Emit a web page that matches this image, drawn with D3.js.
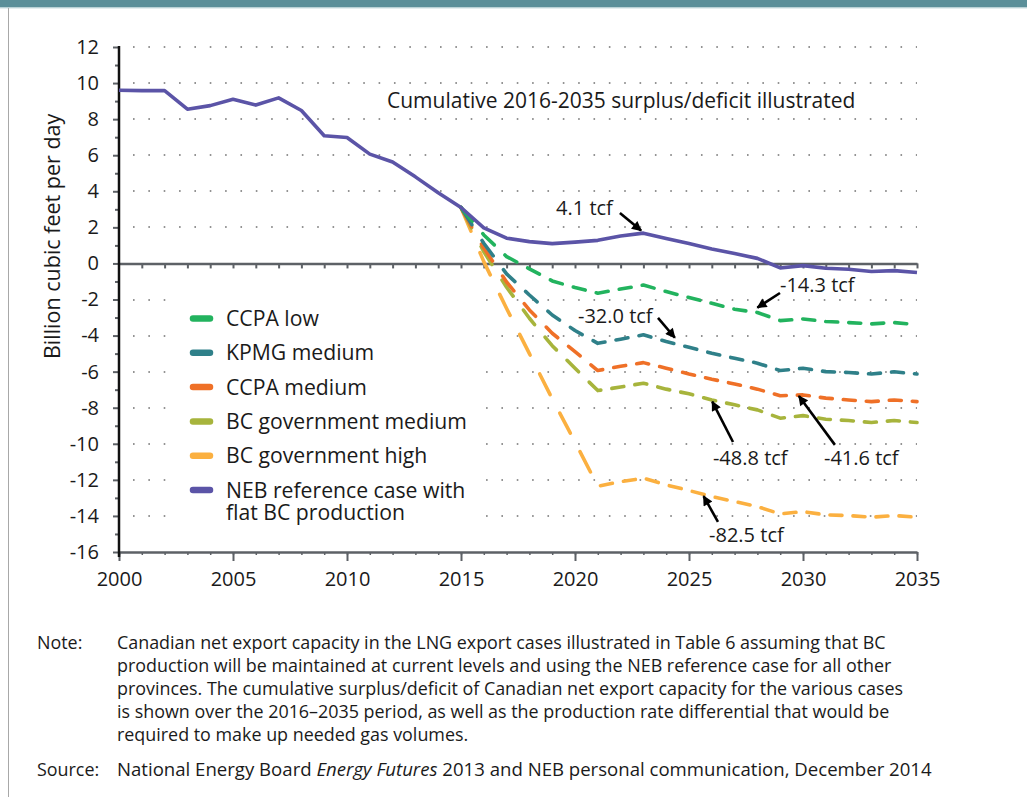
<!DOCTYPE html>
<html><head><meta charset="utf-8">
<script src="https://cdn.jsdelivr.net/npm/d3@7"></script>
<style>
body{margin:0;background:#fff;}
svg{display:block;}
text{font-family:"Open Sans",sans-serif;fill:#1a1a1a;}
</style>
</head><body>
<svg id="c" width="1027" height="797"></svg>
<script>
// ---------- DATA ----------
const years = d3.range(2000, 2036);
const nebValues = [9.6, 9.58, 9.58, 8.55, 8.75, 9.1, 8.78, 9.18, 8.48, 7.08, 6.98, 6.06, 5.62, 4.8, 3.92, 3.1,
  1.97, 1.4, 1.21, 1.1, 1.18, 1.28, 1.52, 1.68, 1.38, 1.1, 0.8, 0.55, 0.28, -0.25, -0.12, -0.27, -0.32, -0.45, -0.4, -0.5];
const scenarioYears = d3.range(2015, 2036);
const ccpaLow = [3.1, 1.58, 0.38, -0.3, -0.97, -1.34, -1.65, -1.42, -1.2, -1.56, -1.89, -2.21, -2.54, -2.72, -3.17, -3.08, -3.22, -3.28, -3.35, -3.28, -3.39];
const kpmgMedium = [3.1, 1.12, -0.58, -1.75, -2.86, -3.72, -4.43, -4.2, -3.96, -4.33, -4.65, -4.98, -5.26, -5.53, -5.94, -5.81, -6.0, -6.05, -6.13, -6.01, -6.13];
const ccpaMedium = [3.1, 0.85, -1.03, -2.58, -3.87, -4.89, -5.94, -5.7, -5.5, -5.81, -6.13, -6.42, -6.68, -6.97, -7.34, -7.29, -7.47, -7.57, -7.66, -7.57, -7.66];
const bcGovMedium = [3.1, 0.65, -1.32, -3.04, -4.56, -5.81, -7.05, -6.85, -6.64, -6.97, -7.23, -7.57, -7.84, -8.12, -8.58, -8.44, -8.64, -8.71, -8.82, -8.71, -8.82];
const bcGovHigh = [3.1, 0.1, -2.5, -5.0, -7.5, -9.9, -12.35, -12.1, -11.91, -12.28, -12.59, -12.93, -13.2, -13.48, -13.89, -13.76, -13.94, -13.98, -14.07, -13.98, -14.07];
const legendLabels = ["CCPA low", "KPMG medium", "CCPA medium", "BC government medium", "BC government high", "NEB reference case with|flat BC production"];
const yTicks = d3.range(-16, 13, 2);
const yMinorTicks = d3.range(-15, 12, 2);
const xTicks = d3.range(2000, 2036, 5);
const xMinorTicks = d3.range(2000, 2036, 1);
const chartTitle = "Cumulative 2016-2035 surplus/deficit illustrated";
const yTitle = "Billion cubic feet per day";
const annotationLabels = ["4.1 tcf", "-14.3 tcf", "-32.0 tcf", "-48.8 tcf", "-41.6 tcf", "-82.5 tcf"];

// ---------- STYLE / LAYOUT ----------
const colors = ["#22b35e", "#2f8089", "#ef7027", "#a7b43c", "#fbb040", "#5b54a7"];
const scenarioData = [ccpaLow, kpmgMedium, ccpaMedium, bcGovMedium, bcGovHigh];
const W = 1027, H = 797;
const svg = d3.select("#c");
const x = d3.scaleLinear().domain([2000, 2035]).range([119, 917]);
const y = d3.scaleLinear().domain([-16, 12]).range([552, 47]);
const FONT = '"Open Sans", sans-serif';

// page frame
svg.append("rect").attr("x", 0).attr("y", 0).attr("width", W).attr("height", 7.5).attr("fill", "#5b8f99");
svg.append("line").attr("x1", 0).attr("x2", W).attr("y1", 8).attr("y2", 8).attr("stroke", "#c9dde0").attr("stroke-width", 1);
svg.append("line").attr("x1", 8.5).attr("x2", 8.5).attr("y1", 8).attr("y2", H).attr("stroke", "#a8a8a8").attr("stroke-width", 1);

// dotted grid
svg.append("g").selectAll("line").data(yTicks.filter(v => v !== 0 && v !== -16)).join("line")
  .attr("x1", 133).attr("x2", 917).attr("y1", d => Math.round(y(d))).attr("y2", d => Math.round(y(d)))
  .attr("stroke", "#707070").attr("stroke-width", 1.6).attr("stroke-dasharray", "1.6 13.75");

// legend background (covers grid)
svg.append("rect").attr("x", 178).attr("y", 292).attr("width", 300).attr("height", 236).attr("fill", "#fff");

// zero line with year ticks
const zg = svg.append("g").attr("transform", `translate(0,${y(0)})`)
  .call(d3.axisBottom(x).tickValues(xMinorTicks.filter(d => d > 2000)).tickSize(5).tickFormat("").tickSizeOuter(0));
zg.select(".domain").attr("stroke", "#5d6166").attr("stroke-width", 2.5);
zg.selectAll(".tick line").attr("stroke", "#5d6166").attr("stroke-width", 2);

// bottom axis
const xg = svg.append("g").attr("transform", `translate(0,${y(-16)})`)
  .call(d3.axisBottom(x).tickValues(xMinorTicks).tickSize(3).tickFormat("").tickSizeOuter(0));
xg.select(".domain").attr("stroke", "#5d6166").attr("stroke-width", 2.5);
xg.selectAll(".tick line").attr("stroke", "#5d6166").attr("stroke-width", 1.5);
const xg2 = svg.append("g").attr("transform", `translate(0,${y(-16)})`)
  .call(d3.axisBottom(x).tickValues(xTicks).tickSize(9).tickPadding(11).tickSizeOuter(0).tickFormat(d3.format("d")));
xg2.select(".domain").remove();
xg2.selectAll(".tick line").attr("stroke", "#5d6166").attr("stroke-width", 2);
xg2.selectAll(".tick text").attr("font-family", FONT).attr("font-size", 20).attr("fill", "#1a1a1a");

// y axis
const ygm = svg.append("g").attr("transform", `translate(${x(2000)},0)`)
  .call(d3.axisLeft(y).tickValues(yMinorTicks).tickSize(4).tickFormat("").tickSizeOuter(0));
ygm.select(".domain").remove();
ygm.selectAll(".tick line").attr("stroke", "#5d6166").attr("stroke-width", 2);
const yg = svg.append("g").attr("transform", `translate(${x(2000)},0)`)
  .call(d3.axisLeft(y).tickValues(yTicks).tickSize(6).tickPadding(14).tickSizeOuter(0).tickFormat(d => String(d)));
yg.select(".domain").remove();
yg.selectAll(".tick line").attr("stroke", "#5d6166").attr("stroke-width", 2);
yg.selectAll(".tick text").attr("font-family", FONT).attr("font-size", 20).attr("fill", "#1a1a1a");
svg.append("line").attr("x1", x(2000)).attr("x2", x(2000)).attr("y1", y(12) - 1).attr("y2", y(-16) + 5)
  .attr("stroke", "#111").attr("stroke-width", 2.5);

// y title
svg.append("text").attr("transform", `translate(52,${(y(9.6) + y(-6.6)) / 2}) rotate(-90)`)
  .attr("text-anchor", "middle").attr("dy", "0.35em").attr("font-size", 21.5).text(yTitle);

// chart title
svg.append("text").attr("x", 387).attr("y", 108).attr("font-size", 21).text(chartTitle);

// dashed scenario lines (dash pattern computed in a vertically compressed space, as in the source)
function dashify(pts, pattern, s) {
  const out = []; let cur = null; let on = true; let pi = 0; let remain = pattern[0];
  for (let i = 0; i < pts.length - 1; i++) {
    const [x0, y0] = pts[i], [x1, y1] = pts[i + 1];
    const len = Math.hypot(x1 - x0, (y1 - y0) / s);
    let t = 0;
    while (len - t > 1e-9) {
      const step = Math.min(remain, len - t);
      const ta = t / len, tb = (t + step) / len;
      if (on) {
        if (!cur) cur = [[x0 + (x1 - x0) * ta, y0 + (y1 - y0) * ta]];
        cur.push([x0 + (x1 - x0) * tb, y0 + (y1 - y0) * tb]);
      }
      t += step; remain -= step;
      if (remain <= 1e-9) {
        if (on && cur) { out.push(cur); cur = null; }
        on = !on; pi = (pi + 1) % 2; remain = pattern[pi];
      }
    }
  }
  if (cur) out.push(cur);
  return out;
}
const lineGen = d3.line();
const scenarioOrder = [4, 3, 2, 1, 0];
scenarioOrder.forEach(i => {
  const pts = scenarioYears.map((yr, k) => [x(yr), y(scenarioData[i][k])]);
  const dashes = dashify(pts, [12, 11], 3.5);
  svg.append("g").selectAll("path").data(dashes).join("path")
    .attr("d", d => lineGen(d)).attr("fill", "none").attr("stroke", colors[i])
    .attr("stroke-width", 3.6).attr("stroke-linecap", "round").attr("stroke-linejoin", "round");
});

// NEB solid line
svg.append("path").datum(years.map((yr, k) => [x(yr), y(nebValues[k])]))
  .attr("d", lineGen).attr("fill", "none").attr("stroke", colors[5]).attr("stroke-width", 3.6)
  .attr("stroke-linejoin", "round");

// legend
const legendTop = 318.5, legendStep = 34.3;
legendLabels.forEach((lab, i) => {
  const cy = legendTop + i * legendStep;
  svg.append("line").attr("x1", 193).attr("x2", 210).attr("y1", cy).attr("y2", cy)
    .attr("stroke", colors[i]).attr("stroke-width", 6.5).attr("stroke-linecap", "round");
  const t = svg.append("text").attr("x", 226).attr("y", cy).attr("font-size", 21.2);
  lab.split("|").forEach((part, j) => {
    t.append("tspan").attr("x", 226).attr("dy", j === 0 ? "0.36em" : 22.5).text(part);
  });
});

// annotations
svg.append("defs").append("marker").attr("id", "ah").attr("viewBox", "0 0 10 10")
  .attr("refX", 9).attr("refY", 5).attr("markerWidth", 12).attr("markerHeight", 10)
  .attr("markerUnits", "userSpaceOnUse").attr("orient", "auto")
  .append("path").attr("d", "M0,0 L10,5 L0,10 z").attr("fill", "#000");
const annoPos = [
  { tx: 2019.17, ty: 3.08, x0: 2021.97, y0: 2.80, x1: 2022.9, y1: 1.82 },
  { tx: 2028.99, ty: -1.19, x0: 2028.99, y0: -1.64, x1: 2028.0, y1: -2.45 },
  { tx: 2020.13, ty: -2.91, x0: 2023.64, y0: -3.02, x1: 2024.38, y1: -4.12 },
  { tx: 2026.05, ty: -10.78, x0: 2026.93, y0: -9.9, x1: 2026.02, y1: -7.66 },
  { tx: 2030.92, ty: -10.78, x0: 2031.4, y0: -10.06, x1: 2029.82, y1: -7.35 },
  { tx: 2025.88, ty: -15.05, x0: 2026.27, y0: -14.33, x1: 2025.64, y1: -12.9 }
];
annoPos.forEach((a, i) => {
  svg.append("line").attr("x1", x(a.x0)).attr("y1", y(a.y0)).attr("x2", x(a.x1)).attr("y2", y(a.y1))
    .attr("stroke", "#000").attr("stroke-width", 2.6).attr("marker-end", "url(#ah)");
  svg.append("text").attr("x", x(a.tx)).attr("y", y(a.ty)).attr("dy", "0.36em")
    .attr("font-size", 20).text(annotationLabels[i]);
});

// notes
const noteLines = [
  "Canadian net export capacity in the LNG export cases illustrated in Table 6 assuming that BC",
  "production will be maintained at current levels and using the NEB reference case for all other",
  "provinces. The cumulative surplus/deficit of Canadian net export capacity for the various cases",
  "is shown over the 2016\u20132035 period, as well as the production rate differential that would be",
  "required to make up needed gas volumes."
];
const NS = 17.9;
svg.append("text").attr("x", 37).attr("y", 649).attr("font-size", NS).text("Note:");
noteLines.forEach((l, i) => {
  svg.append("text").attr("x", 117).attr("y", 649 + i * 23).attr("font-size", NS).text(l);
});
svg.append("text").attr("x", 37).attr("y", 776).attr("font-size", NS).text("Source:");
const src = svg.append("text").attr("x", 117).attr("y", 776).attr("font-size", 18.6);
src.append("tspan").text("National Energy Board ");
src.append("tspan").attr("font-style", "italic").text("Energy Futures");
src.append("tspan").text(" 2013 and NEB personal communication, December 2014");
</script>
</body></html>
